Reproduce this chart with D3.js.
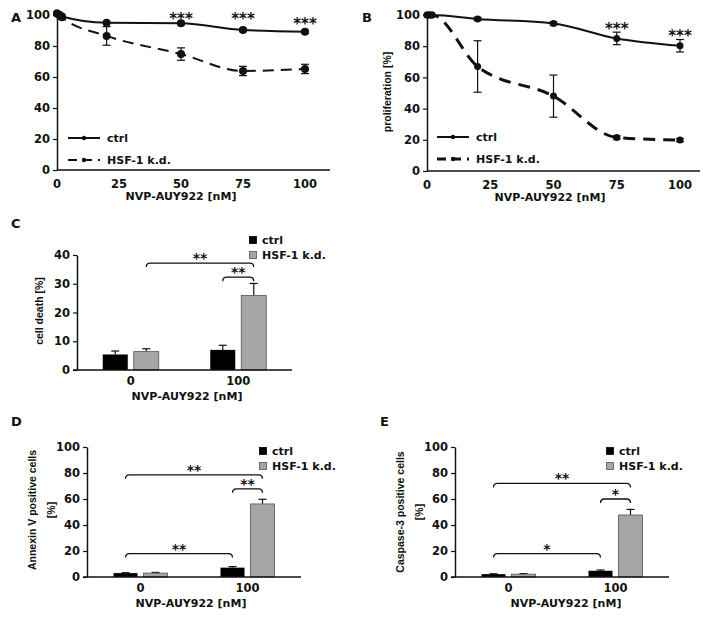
<!DOCTYPE html>
<html><head><meta charset="utf-8">
<script src="https://cdn.jsdelivr.net/npm/d3@7"></script>
<style>
body{margin:0;background:#fff;}
text{font-family:"DejaVu Sans",sans-serif;font-weight:bold;fill:#111;}
.vt{font-family:"Liberation Sans",Arial,sans-serif;}
</style></head><body>
<svg id="c" width="703" height="617"></svg>
<script>
// ---------- DATA ----------
const conc = [0, 1, 2, 20, 50, 75, 100];
const xTicksLine = [0, 25, 50, 75, 100];
const yTicks100 = [0, 20, 40, 60, 80, 100];
const yTicks40 = [0, 10, 20, 30, 40];

const aCtrl = [101, 100, 99, 95, 94.6, 90.3, 89.2];
const aCtrlErr = [0.5, 0.5, 0.5, 0.8, 1, 1, 1];
const aHsf = [101, 100, 98.5, 86.5, 74.8, 63.9, 65.2];
const aHsfErr = [0.5, 0.5, 1, 6, 4, 3, 3];
const aStarsX = [50, 75, 100];
const aStarsY = [100.3, 99.7, 96.8];

const bCtrl = [100, 100, 100, 97.5, 94.6, 85, 80.3];
const bCtrlErr = [0.3, 0.3, 0.3, 1, 1, 4, 4];
const bHsf = [100, 100, 100, 67, 48, 21.5, 19.8];
const bHsfErr = [0.3, 0.3, 0.3, 16.5, 13.5, 1, 1];
const bStarsX = [75, 100];
const bStarsY = [93.6, 89];

const groups = ["0", "100"];
const seriesNames = ["ctrl", "HSF-1 k.d."];

const cCtrl = [5.4, 7.0], cCtrlErr = [1.2, 1.6];
const cHsf = [6.4, 25.9], cHsfErr = [1.0, 4.2];
const cBrackets = [
  {g1: "0", s1: 1, g2: "100", s2: 1, y: 37.2, label: "**"},
  {g1: "100", s1: 0, g2: "100", s2: 1, y: 32.3, label: "**"}
];

const dCtrl = [3.0, 7.2], dCtrlErr = [0.3, 0.8];
const dHsf = [3.0, 56.2], dHsfErr = [0.5, 3.6];
const dBrackets = [
  {g1: "0", s1: 0, g2: "100", s2: 1, y: 78.6, label: "**"},
  {g1: "100", s1: 0, g2: "100", s2: 1, y: 67.8, label: "**"},
  {g1: "0", s1: 0, g2: "100", s2: 0, y: 18, label: "**"}
];

const eCtrl = [2.2, 4.8], eCtrlErr = [0.3, 0.6];
const eHsf = [2.2, 47.7], eHsfErr = [0.4, 4.3];
const eBrackets = [
  {g1: "0", s1: 0, g2: "100", s2: 1, y: 72, label: "**"},
  {g1: "100", s1: 0, g2: "100", s2: 1, y: 60, label: "*"},
  {g1: "0", s1: 0, g2: "100", s2: 0, y: 18, label: "*"}
];

// ---------- DRAW ----------
const svg = d3.select("#c");
const INK = "#111";

function yAxis(g, y, ticks, x0) {
  const ax = g.append("g").attr("transform", `translate(${x0},0)`)
    .call(d3.axisLeft(y).tickValues(ticks).tickSize(4).tickPadding(3).tickSizeOuter(0));
  ax.select(".domain").attr("stroke", INK).attr("stroke-width", 1.5);
  ax.selectAll(".tick line").attr("stroke", INK).attr("stroke-width", 1.2);
  ax.selectAll(".tick text").attr("font-size", 11.5).attr("font-family", "DejaVu Sans").attr("font-weight", "bold").attr("fill", INK);
  return ax;
}

function linePanel(o) {
  const g = svg.append("g");
  const x = d3.scaleLinear().domain([0, 100]).range([o.x0, o.x1]);
  const y = d3.scaleLinear().domain([0, 100]).range([o.yb, o.yt]);
  yAxis(g, y, yTicks100, o.x0);
  g.append("line").attr("x1", o.x0).attr("x2", o.xEnd).attr("y1", o.yb).attr("y2", o.yb)
    .attr("stroke", INK).attr("stroke-width", 1.5);
  g.selectAll(".xt").data(xTicksLine).join("text")
    .attr("x", d => x(d)).attr("y", o.yb + 18).attr("text-anchor", "middle")
    .attr("font-size", 11.5).text(d => d);
  g.append("text").attr("x", o.titleX).attr("y", o.yb + 30).attr("text-anchor", "middle")
    .attr("font-size", 11).text("NVP-AUY922 [nM]");
  if (o.ytitle) {
    g.append("text").attr("class", "vt").attr("transform", `translate(${o.ytx},${o.yty}) rotate(-90)`)
      .attr("text-anchor", "middle").attr("font-size", 10.5).text(o.ytitle);
  }
  g.append("text").attr("x", o.labX).attr("y", 22).attr("font-size", 13).text(o.label);

  const line = d3.line().x((d, i) => x(conc[i])).y(d => y(d)).curve(d3.curveMonotoneX);
  const series = [
    {v: o.ctrl, e: o.ctrlErr, dash: null, w: o.wCtrl},
    {v: o.hsf, e: o.hsfErr, dash: o.dash, w: o.wHsf}
  ];
  series.forEach(s => {
    g.append("path").datum(s.v).attr("d", line).attr("fill", "none")
      .attr("stroke", INK).attr("stroke-width", s.w).attr("stroke-dasharray", s.dash);
    s.v.forEach((v, i) => {
      if (s.e[i] > 0.9) {
        const cx = x(conc[i]);
        g.append("line").attr("x1", cx).attr("x2", cx).attr("y1", y(v - s.e[i])).attr("y2", y(v + s.e[i]))
          .attr("stroke", INK).attr("stroke-width", 1.2);
        [v - s.e[i], v + s.e[i]].forEach(t => g.append("line").attr("x1", cx - 4).attr("x2", cx + 4)
          .attr("y1", y(t)).attr("y2", y(t)).attr("stroke", INK).attr("stroke-width", 1.2));
      }
    });
    g.selectAll(null).data(s.v).join("circle")
      .attr("cx", (d, i) => x(conc[i])).attr("cy", d => y(d)).attr("r", o.r).attr("fill", INK);
  });
  o.starsX.forEach((sx, i) => {
    g.append("text").attr("x", x(sx)).attr("y", y(o.starsY[i]) + 9).attr("text-anchor", "middle")
      .attr("font-size", 15).text("***");
  });
  const lg = [
    {name: seriesNames[0], y: o.legY, dash: null, w: o.wCtrl},
    {name: seriesNames[1], y: o.legY + 22, dash: o.legDash, w: o.wHsf}
  ];
  lg.forEach(l => {
    g.append("line").attr("x1", o.legX).attr("x2", o.legX + 32).attr("y1", l.y).attr("y2", l.y)
      .attr("stroke", INK).attr("stroke-width", l.w).attr("stroke-dasharray", l.dash);
    g.append("circle").attr("cx", o.legX + 16).attr("cy", l.y).attr("r", 2.2).attr("fill", INK);
    g.append("text").attr("x", o.legX + 39).attr("y", l.y + 4).attr("font-size", 11).text(l.name);
  });
}

linePanel({x0: 57, x1: 305, xEnd: 330, yb: 170, yt: 15, titleX: 181, label: "A", labX: 11,
  ctrl: aCtrl, ctrlErr: aCtrlErr, hsf: aHsf, hsfErr: aHsfErr, dash: "11,7", legDash: "9,6",
  wCtrl: 2, wHsf: 2, r: 4, starsX: aStarsX, starsY: aStarsY, legX: 68, legY: 138});
linePanel({x0: 427, x1: 680, xEnd: 700, yb: 171, yt: 15, titleX: 550, label: "B", labX: 362,
  ctrl: bCtrl, ctrlErr: bCtrlErr, hsf: bHsf, hsfErr: bHsfErr, dash: "12,8", legDash: "9,6",
  wCtrl: 2, wHsf: 3, r: 3.5, starsX: bStarsX, starsY: bStarsY, legX: 437, legY: 137,
  ytitle: "proliferation [%]", ytx: 391, yty: 92});

function barPanel(o) {
  const g = svg.append("g");
  const x = d3.scaleBand().domain(groups).range([o.x0, o.x1]);
  const y = d3.scaleLinear().domain([0, o.ymax]).range([o.yb, o.yt]);
  const bw = o.bw, gap = o.gap;
  const barX = (gi, s) => x(groups[gi]) + x.bandwidth() / 2 + (s === 0 ? -gap / 2 - bw : gap / 2);
  const barC = (gname, s) => barX(groups.indexOf(gname), s) + bw / 2;
  yAxis(g, y, o.ticks, o.x0);
  const data = [[o.ctrl, o.ctrlErr], [o.hsf, o.hsfErr]];
  data.forEach(([vals, errs], s) => {
    vals.forEach((v, gi) => {
      const cx = barX(gi, s) + bw / 2;
      g.append("line").attr("x1", cx).attr("x2", cx).attr("y1", y(v)).attr("y2", y(v + errs[gi]))
        .attr("stroke", INK).attr("stroke-width", 1.2);
      g.append("line").attr("x1", cx - 4).attr("x2", cx + 4).attr("y1", y(v + errs[gi])).attr("y2", y(v + errs[gi]))
        .attr("stroke", INK).attr("stroke-width", 1.2);
    });
    g.selectAll(null).data(vals).join("rect")
      .attr("x", (d, gi) => barX(gi, s)).attr("width", bw)
      .attr("y", d => y(d)).attr("height", d => o.yb - y(d))
      .attr("fill", s === 0 ? "#000" : "#a6a6a6")
      .attr("stroke", s === 0 ? "#000" : "#555").attr("stroke-width", s === 0 ? 0 : 0.8);
  });
  g.append("line").attr("x1", o.x0 - 4).attr("x2", o.x1).attr("y1", o.yb).attr("y2", o.yb)
    .attr("stroke", INK).attr("stroke-width", 1.5);
  g.selectAll(".gl").data(groups).join("text")
    .attr("x", d => x(d) + x.bandwidth() / 2).attr("y", o.yb + 15).attr("text-anchor", "middle")
    .attr("font-size", 11.5).text(d => d);
  g.append("text").attr("x", o.titleX).attr("y", o.yb + 30).attr("text-anchor", "middle")
    .attr("font-size", 11).text("NVP-AUY922 [nM]");
  o.brackets.forEach(b => {
    const x1 = barC(b.g1, b.s1), x2 = barC(b.g2, b.s2), by = y(b.y);
    g.append("path").attr("d", `M${x1},${by + 4} Q${x1},${by} ${x1 + 4},${by} L${x2 - 4},${by} Q${x2},${by} ${x2},${by + 4}`)
      .attr("fill", "none").attr("stroke", INK).attr("stroke-width", 1.3);
    g.append("text").attr("x", (x1 + x2) / 2).attr("y", by).attr("text-anchor", "middle")
      .attr("font-size", 14).text(b.label);
  });
  seriesNames.forEach((n, s) => {
    const ly = o.legY + s * 15;
    g.append("rect").attr("x", o.legX - 3.5).attr("y", ly - 3.5).attr("width", 7).attr("height", 7)
      .attr("fill", s === 0 ? "#000" : "#a6a6a6").attr("stroke", s === 0 ? "#000" : "#555").attr("stroke-width", 0.8);
    g.append("text").attr("x", o.legX + 9).attr("y", ly + 4).attr("font-size", 11).text(n);
  });
  o.ytitle.forEach((t, i) => {
    g.append("text").attr("class", "vt").attr("transform", `translate(${o.ytx + i * o.ytdx},${o.yty}) rotate(-90)`)
      .attr("text-anchor", "middle").attr("font-size", 10.5).attr("font-weight", o.ytw).text(t);
  });
  g.append("text").attr("x", o.labX).attr("y", o.labY).attr("font-size", 13).text(o.label);
}

barPanel({x0: 77, x1: 292, yb: 370, yt: 255, ymax: 40, ticks: yTicks40, bw: 25, gap: 6,
  ctrl: cCtrl, ctrlErr: cCtrlErr, hsf: cHsf, hsfErr: cHsfErr, brackets: cBrackets,
  titleX: 187, legX: 253, legY: 240, ytitle: ["cell death [%]"], ytx: 43, yty: 311, ytdx: 0, ytw: "normal",
  label: "C", labX: 11, labY: 228});
barPanel({x0: 87, x1: 301, yb: 577, yt: 447, ymax: 100, ticks: yTicks100, bw: 24, gap: 6,
  ctrl: dCtrl, ctrlErr: dCtrlErr, hsf: dHsf, hsfErr: dHsfErr, brackets: dBrackets,
  titleX: 191, legX: 263, legY: 451, ytitle: ["Annexin V positive cells", "[%]"], ytx: 36, yty: 510, ytdx: 19, ytw: "bold",
  label: "D", labX: 11, labY: 426});
barPanel({x0: 455, x1: 669, yb: 577, yt: 447, ymax: 100, ticks: yTicks100, bw: 24, gap: 6,
  ctrl: eCtrl, ctrlErr: eCtrlErr, hsf: eHsf, hsfErr: eHsfErr, brackets: eBrackets,
  titleX: 566, legX: 610, legY: 451, ytitle: ["Caspase-3 positive cells", "[%]"], ytx: 404, yty: 512, ytdx: 19, ytw: "bold",
  label: "E", labX: 380, labY: 426});
</script>
</body></html>
